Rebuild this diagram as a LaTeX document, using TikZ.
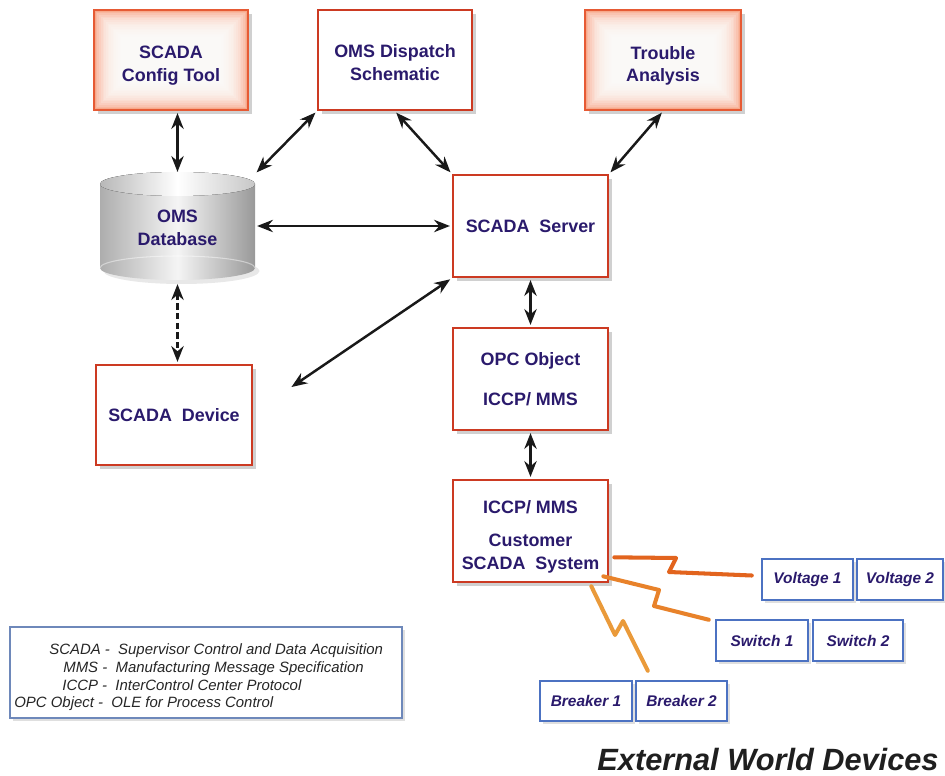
\documentclass[tikz,border=0pt]{standalone}
\usepackage{fontspec}
\setmainfont{Liberation Sans}
\usetikzlibrary{arrows.meta,shadows,calc}
\definecolor{txt}{HTML}{2A1A6C}
\definecolor{boxred}{HTML}{CC3A22}
\definecolor{glowred}{HTML}{E65A34}
\definecolor{salmon}{HTML}{F7A88A}
\definecolor{devblue}{HTML}{4C72C2}
\definecolor{legblue}{HTML}{6E88BA}
\definecolor{zapA}{HTML}{E2641E}
\definecolor{zapB}{HTML}{E8822A}
\definecolor{zapC}{HTML}{EA9A3A}
\begin{document}
\begin{tikzpicture}[x=0.02cm,y=-0.02cm,
  sz/.style n args={2}{minimum width={#1*0.02cm}, minimum height={#2*0.02cm}},
  box/.style={draw=boxred, line width=1.5pt, fill=white, inner sep=0pt,
    drop shadow={shadow xshift=2.5pt, shadow yshift=-2.5pt, opacity=0.3, fill=black!60},
    font=\fontsize{10.2}{13}\selectfont\bfseries, text=txt, align=center},
  glowbox/.style={box, draw=glowred, fill=salmon,
    path picture={\foreach \i in {1,...,16}{\fill[white,opacity=0.18]
      ([shift={(\i*1.7,-\i*1.7)}]path picture bounding box.south west) rectangle
      ([shift={(-\i*1.7,\i*1.7)}]path picture bounding box.north east);}}},
  dbox/.style={draw=devblue, line width=1.4pt, fill=white, inner sep=0pt,
    drop shadow={shadow xshift=1.5pt, shadow yshift=-1.5pt, opacity=0.25, fill=black!50},
    font=\fontsize{8.8}{10}\selectfont\bfseries\itshape, text=txt},
  legtxt/.style={anchor=base west, inner sep=0pt, font=\fontsize{8.5}{10}\selectfont\itshape, text=black!85},
  arr/.style={{Stealth[length=9pt,width=7pt]}-{Stealth[length=9pt,width=7pt]}, line width=1.4pt, black!90,
    shorten <=1pt, shorten >=1pt},
  zap/.style={line width=2.3pt, line join=round, line cap=round}
]
\fill[white] (0,0) rectangle (945,776);
\useasboundingbox (0,0) rectangle (945,776);

% top row
\node[glowbox, sz={154}{100}] (cfg) at (171,60) {\rule{0pt}{14pt}SCADA\\Config Tool};
\node[box, sz={154}{100}] (disp) at (395,60) {\rule{0pt}{10pt}OMS Dispatch\\Schematic};
\node[glowbox, sz={156}{100}] (trb) at (663,60) {\rule{0pt}{14pt}Trouble\\Analysis};

% database cylinder
\begin{scope}[shift={(177.5,184)}, x=0.02cm, y=0.02cm]
  \fill[black!20, opacity=0.45] (4,-87) ellipse[x radius=78, y radius=13];
  \path[left color=black!32, right color=black!40, middle color=black!4]
    (-77.5,0) -- (-77.5,-84) arc[start angle=180, end angle=360, x radius=77.5, y radius=12]
    -- (77.5,0) arc[start angle=0, end angle=180, x radius=77.5, y radius=12] -- cycle;
  \draw[white, line width=0.6pt, opacity=0.45] (-77.5,-84) arc[start angle=180, end angle=0, x radius=77.5, y radius=12];
  \fill[left color=black!28, right color=black!22, middle color=white] (0,0) ellipse[x radius=77.5, y radius=12];
\end{scope}
\node[sz={155}{108}, inner sep=0pt, font=\fontsize{10.2}{13}\selectfont\bfseries, text=txt, align=center] (db) at (177.5,228) {OMS\\Database};

% middle column
\node[box, sz={155}{102}] (srv) at (530.5,226) {SCADA\ \ Server};
\node[box, sz={155}{102}] (opc) at (530.5,379) {OPC Object\\[9.5pt]ICCP/ MMS};
\node[box, sz={155}{102}] (cust) at (530.5,531) {\rule{0pt}{14pt}ICCP/ MMS\\[6pt]Customer\\SCADA\ \ System};
\node[box, sz={156}{100}] (dev) at (174,415) {SCADA\ \ Device};

% external devices
\node[dbox, sz={91}{41}] (v1) at (807.5,579.5) {Voltage 1};
\node[dbox, sz={86}{41}] (v2) at (900,579.5) {Voltage 2};
\node[dbox, sz={92}{41}] (s1) at (762,640.5) {Switch 1};
\node[dbox, sz={90}{41}] (s2) at (858,640.5) {Switch 2};
\node[dbox, sz={92}{40}] (b1) at (586,701) {Breaker 1};
\node[dbox, sz={91}{40}] (b2) at (681.5,701) {Breaker 2};

% legend
\node[draw=legblue, line width=0.8pt, fill=white, inner sep=0pt, sz={392}{91},
  drop shadow={shadow xshift=1.5pt, shadow yshift=-1.5pt, opacity=0.25, fill=black!50}] (leg) at (206,672.5) {};
\node[legtxt] (leg1) at (49,654) {SCADA -~ Supervisor Control and Data Acquisition};
\node[legtxt] (leg2) at (63,672) {MMS -~ Manufacturing Message Specification};
\node[legtxt] (leg3) at (62,690) {ICCP -~ InterControl Center Protocol};
\node[legtxt] (leg4) at (14,707) {OPC Object -~ OLE for Process Control};

\node[font=\fontsize{17.5}{20}\selectfont\bfseries\itshape, text=black!88] (ext) at (768,760) {External World Devices};

% connectors
\draw[arr] (db.north |- cfg.south) -- (db.north);
\draw[arr] (disp.south west) -- (db.north east);
\draw[arr] (disp.south) -- (srv.north west);
\draw[arr] (trb.south) -- (srv.north east);
\draw[arr] (srv.west -| db.east) -- (srv.west);
\draw[arr, dash pattern=on 3.5pt off 2pt] (db.south) -- (db.south |- dev.north);
\coordinate (free) at (290,388);
\draw[arr] (srv.south west) -- (free);
\draw[arr] (srv.south) -- (opc.north);
\draw[arr] (opc.south) -- (cust.north);

% lightning links
\draw[zap, zapA] ($(cust.south east)+(5,-26)$) -- (676,558) -- (669,572) -- ($(v1.west)+(-9,-4)$);
\draw[zap, zapB] ($(cust.south east)+(-6,-7)$) -- (659,590) -- (654,606) -- ($(s1.north west)+(-6,1)$);
\draw[zap, zapC] ($(cust.south east)+(-18,3)$) -- (615,635) -- (623,621) -- ($(b2.north west)+(13,-9)$);
\end{tikzpicture}
\end{document}
